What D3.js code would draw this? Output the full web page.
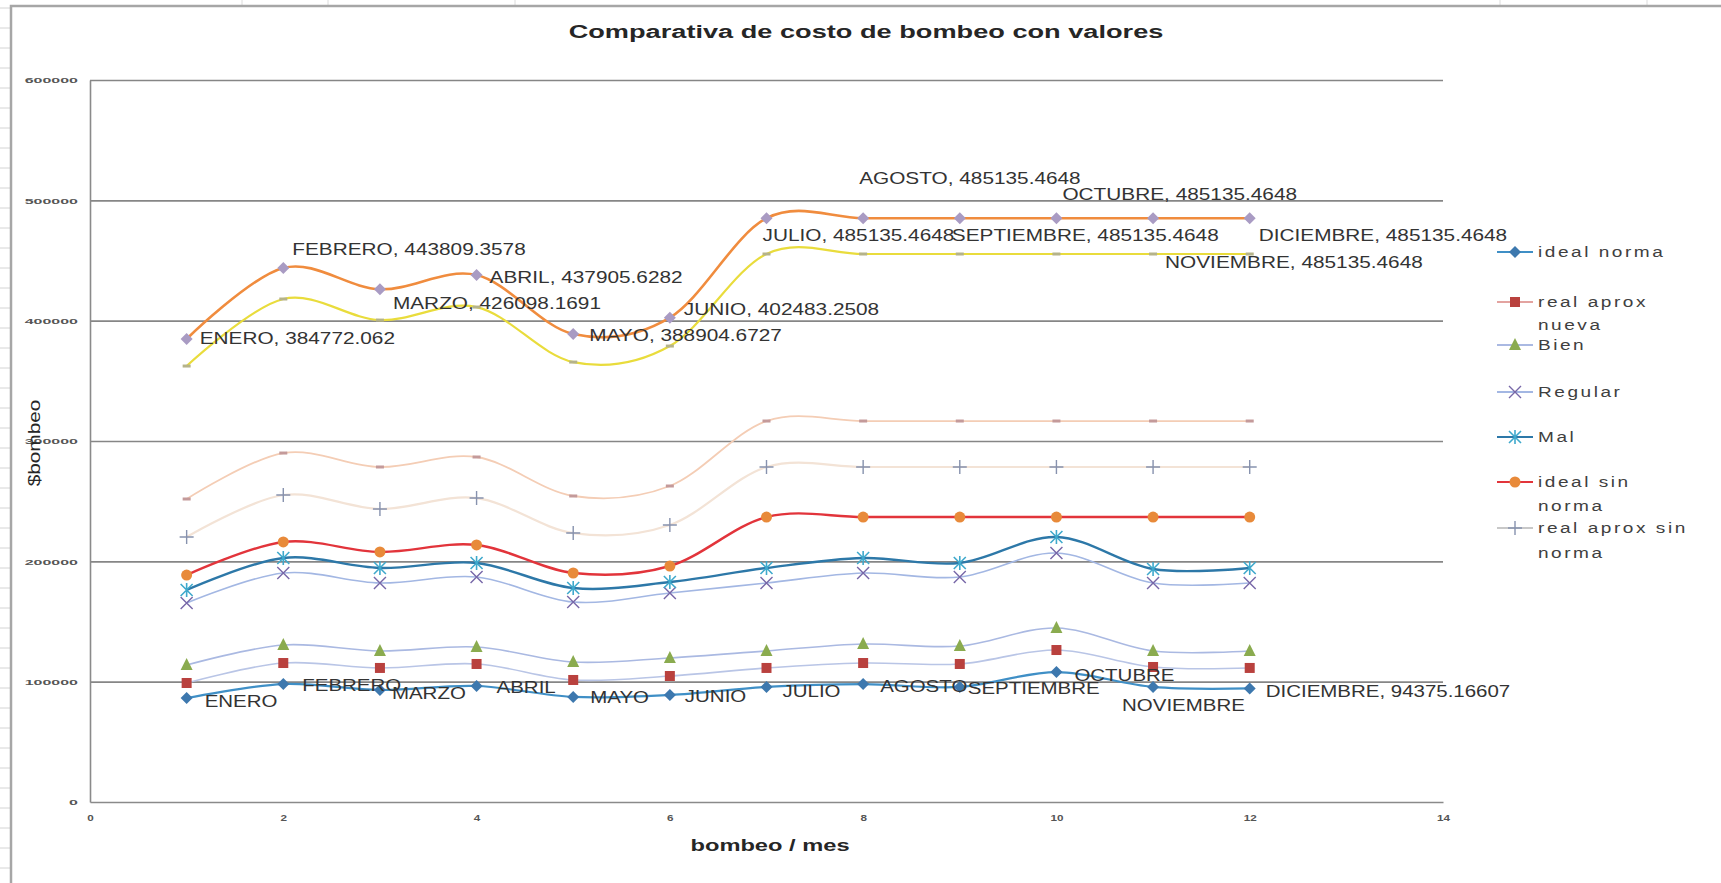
<!DOCTYPE html>
<html>
<head>
<meta charset="utf-8">
<script src="https://cdn.jsdelivr.net/npm/d3@7"></script>
<style>
  html, body { margin: 0; padding: 0; background: #fff; }
  svg { display: block; font-family: "Liberation Sans", Arial, sans-serif; }
</style>
</head>
<body>
<svg id="chart" width="1721" height="883"></svg>
<script>
// ---- data -------------------------------------------------------------
const months = ["ENERO", "FEBRERO", "MARZO", "ABRIL", "MAYO", "JUNIO",
  "JULIO", "AGOSTO", "SEPTIEMBRE", "OCTUBRE", "NOVIEMBRE", "DICIEMBRE"];
const monthNumbers = [1, 2, 3, 4, 5, 6, 7, 8, 9, 10, 11, 12];

const idealNorma        = [86400, 98000, 93100, 96400, 87300, 88900, 95600, 98000, 95600, 108000, 95600, 94375.16607];
const realAproxNueva    = [98900, 115500, 111400, 114700, 101400, 104700, 111400, 115500, 114700, 126300, 112200, 111400];
const bien              = [113800, 130500, 125500, 128800, 116300, 119700, 125500, 131300, 129600, 144600, 125500, 125500];
const regular           = [165400, 190300, 182000, 187000, 166200, 173700, 182000, 190300, 187000, 206900, 182000, 182000];
const mal               = [176200, 202800, 194500, 198600, 177800, 182800, 194500, 202800, 198600, 220200, 193600, 194500];
const idealSinNorma     = [188600, 216100, 207800, 213600, 190300, 196100, 236800, 236800, 236800, 236800, 236800, 236800];
const realAproxSinNorma = [220200, 255100, 243500, 252600, 223500, 230200, 278400, 278400, 278400, 278400, 278400, 278400];
const serie8            = [251800, 290000, 278400, 286700, 254300, 262600, 316600, 316600, 316600, 316600, 316600, 316600];
const serie9            = [362300, 418000, 400500, 411300, 365600, 378900, 455400, 455400, 455400, 455400, 455400, 455400];
const serie10           = [384772.062, 443809.3578, 426098.1691, 437905.6282, 388904.6727, 402483.2508,
  485135.4648, 485135.4648, 485135.4648, 485135.4648, 485135.4648, 485135.4648];

const xTickValues = [0, 2, 4, 6, 8, 10, 12, 14];
const yTickValues = [0, 100000, 200000, 300000, 400000, 500000, 600000];

const titleText = "Comparativa de costo de bombeo con valores";
const xTitle = "bombeo / mes";
const yTitle = "$bombeo";

// ---- series styling ---------------------------------------------------
const series = [
  { name: "ideal norma", values: idealNorma, line: "#3f8fc6", width: 2.2, marker: "diamond", fill: "#3d78ae", legend: ["ideal norma"] },
  { name: "real aprox nueva", values: realAproxNueva, line: "#b9c5e6", width: 1.6, marker: "square", fill: "#b9413e", legend: ["real aprox", "nueva"], legendLine: "#e3a3a0" },
  { name: "Bien", values: bien, line: "#aab9e2", width: 1.6, marker: "triangle", fill: "#8aab4f", legend: ["Bien"] },
  { name: "Regular", values: regular, line: "#a3b7e3", width: 1.6, marker: "x", fill: "#7767a8", legend: ["Regular"] },
  { name: "Mal", values: mal, line: "#2d78a8", width: 2.4, marker: "asterisk", fill: "#3fa9cc", legend: ["Mal"] },
  { name: "ideal sin norma", values: idealSinNorma, line: "#e2343b", width: 2.4, marker: "circle", fill: "#e88a3a", legend: ["ideal sin", "norma"] },
  { name: "real aprox sin norma", values: realAproxSinNorma, line: "#f3e3d6", width: 2.2, marker: "plus", fill: "#8792ae", legend: ["real aprox sin", "norma"], legendLine: "#c8c8c8" },
  { name: "serie 8", values: serie8, line: "#f4cdb5", width: 1.8, marker: "dash", fill: "#c49a9a" },
  { name: "serie 9", values: serie9, line: "#e9dc3c", width: 2.2, marker: "dash", fill: "#b5b38a" },
  { name: "serie 10", values: serie10, line: "#f08c3e", width: 2.6, marker: "diamond", fill: "#a99bc3" }
];

// label placement relative to each point (px)
const topLabelOffsets = [[13, -1], [9, -19], [13, 14], [13, 2], [16, 1], [14, -8],
  [-4, 17], [-4, -40], [-8, 17], [6, -24], [12, 44], [9, 17]];
const bottomLabelOffsets = [[18, 3], [19, 1], [12, 3], [20, 1], [17, 0], [15, 1],
  [16, 4], [17, 2], [8, 1], [18, 3], [-31, 18], [16, 3]];

// ---- layout -----------------------------------------------------------
const plot = { left: 90, right: 1443, top: 80, bottom: 802 };
const svg = d3.select("#chart");

const x = d3.scaleLinear().domain([0, 14]).range([plot.left, plot.right]);
const y = d3.scaleLinear().domain([0, 600000]).range([plot.bottom, plot.top]);

// text helper: horizontally widened glyphs
function label(g, str, px, py, opt = {}) {
  const t = g.append("text")
    .attr("transform", `translate(${px},${py}) scale(${opt.sx || 1},1)`)
    .attr("dy", "0.35em")
    .attr("text-anchor", opt.anchor || "start")
    .attr("font-size", opt.size || 16)
    .attr("font-weight", opt.weight || "normal")
    .attr("fill", opt.fill || "#333")
    .text(str);
  if (opt.spacing) t.attr("letter-spacing", opt.spacing);
  return t;
}

// ---- spreadsheet backdrop ---------------------------------------------
const back = svg.append("g");
back.selectAll("line.row").data(d3.range(8, 883, 20)).join("line")
  .attr("x1", 0).attr("x2", 11).attr("y1", d => d).attr("y2", d => d)
  .attr("stroke", "#d4d4d4").attr("stroke-width", 1);
back.selectAll("line.col").data([242, 328, 515, 1500, 1647]).join("line")
  .attr("x1", d => d).attr("x2", d => d).attr("y1", 0).attr("y2", 5)
  .attr("stroke", "#dcdcdc").attr("stroke-width", 1);
// chart frame
back.append("path")
  .attr("d", `M11,883 L11,6 L1721,6`)
  .attr("fill", "none").attr("stroke", "#a6a6a6").attr("stroke-width", 2.5);

// ---- gridlines and axes -----------------------------------------------
svg.append("g")
  .attr("transform", `translate(${plot.left},0)`)
  .call(d3.axisLeft(y).tickValues(yTickValues.slice(1)).tickSize(-(plot.right - plot.left)).tickFormat(""))
  .call(g => g.select(".domain").remove())
  .call(g => g.selectAll("line").attr("stroke", "#868686").attr("stroke-width", 1.6));

const yAxis = svg.append("g")
  .attr("transform", `translate(${plot.left},0)`)
  .call(d3.axisLeft(y).tickValues(yTickValues).tickSize(0).tickFormat(d3.format("d")));
yAxis.select(".domain").attr("stroke", "#8a8a8a").attr("stroke-width", 1.6);
yAxis.selectAll("text")
  .attr("x", null).attr("dy", "0.35em")
  .attr("transform", "translate(-12,0) scale(2,1)")
  .attr("font-size", 8).attr("font-weight", "bold").attr("fill", "#555")
  .attr("font-family", "Liberation Sans, Arial, sans-serif");

const xAxis = svg.append("g")
  .attr("transform", `translate(0,${plot.bottom})`)
  .call(d3.axisBottom(x).tickValues(xTickValues).tickSize(0).tickFormat(d3.format("d")));
xAxis.select(".domain").attr("stroke", "#8a8a8a").attr("stroke-width", 1.6);
xAxis.selectAll("text")
  .attr("y", null).attr("dy", "0.35em")
  .attr("transform", "translate(0,16) scale(1.3,1)")
  .attr("font-size", 9).attr("font-weight", "bold").attr("fill", "#555")
  .attr("font-family", "Liberation Sans, Arial, sans-serif");

// ---- titles -----------------------------------------------------------
const titles = svg.append("g");
label(titles, titleText, 866, 31, { size: 19, weight: "bold", anchor: "middle", sx: 1.43, fill: "#262626" });
label(titles, xTitle, 770, 845, { size: 16, weight: "bold", anchor: "middle", sx: 1.48, fill: "#262626" });
titles.append("text")
  .attr("transform", "translate(34,443) rotate(-90) scale(1.3,1)")
  .attr("dy", "0.35em").attr("text-anchor", "middle")
  .attr("font-size", 16).attr("fill", "#262626")
  .text(yTitle);

// ---- markers ----------------------------------------------------------
function drawMarker(g, kind, cx, cy, fill) {
  const m = g.append("g").attr("transform", `translate(${cx},${cy})`);
  switch (kind) {
    case "diamond":
      m.append("path").attr("d", "M0,-6 L6,0 L0,6 L-6,0 Z").attr("fill", fill); break;
    case "square":
      m.append("rect").attr("x", -5).attr("y", -5).attr("width", 10).attr("height", 10).attr("fill", fill); break;
    case "triangle":
      m.append("path").attr("d", "M0,-7 L6,5 L-6,5 Z").attr("fill", fill); break;
    case "circle":
      m.append("circle").attr("r", 5.5).attr("fill", fill); break;
    case "x":
      m.append("path").attr("d", "M-6,-6 L6,6 M-6,6 L6,-6").attr("stroke", fill).attr("stroke-width", 1.4); break;
    case "asterisk":
      m.append("path").attr("d", "M-6,-6 L6,6 M-6,6 L6,-6 M0,-7 L0,7").attr("stroke", fill).attr("stroke-width", 1.6); break;
    case "plus":
      m.append("path").attr("d", "M-7,0 L7,0 M0,-7 L0,7").attr("stroke", fill).attr("stroke-width", 1.4); break;
    case "dash":
      m.append("rect").attr("x", -4).attr("y", -1.5).attr("width", 8).attr("height", 3).attr("fill", fill); break;
  }
}

// ---- series -----------------------------------------------------------
const lineGen = d3.line().x(d => x(d[0])).y(d => y(d[1])).curve(d3.curveCardinal.tension(0));
const plotG = svg.append("g");

series.forEach(s => {
  const pts = monthNumbers.map((m, i) => [m, s.values[i]]);
  const g = plotG.append("g");
  g.append("path").attr("d", lineGen(pts))
    .attr("fill", "none").attr("stroke", s.line).attr("stroke-width", s.width);
  pts.forEach(p => drawMarker(g, s.marker, x(p[0]), y(p[1]), s.fill));
});

// ---- data labels ------------------------------------------------------
const labelsG = svg.append("g");
serie10.forEach((v, i) => {
  const [dx, dy] = topLabelOffsets[i];
  label(labelsG, `${months[i]}, ${v}`, x(monthNumbers[i]) + dx, y(v) + dy, { size: 16, sx: 1.3, fill: "#333" });
});
idealNorma.forEach((v, i) => {
  const [dx, dy] = bottomLabelOffsets[i];
  const txt = i === idealNorma.length - 1 ? `${months[i]}, ${v}` : months[i];
  label(labelsG, txt, x(monthNumbers[i]) + dx, y(v) + dy, { size: 16, sx: 1.28, fill: "#333" });
});

// ---- legend -----------------------------------------------------------
const legendRows = [[252], [302, 325], [345], [392], [437], [482, 506], [528, 553]];
const legend = svg.append("g");
series.filter(s => s.legend).forEach((s, i) => {
  const rows = legendRows[i];
  const ly = rows[0];
  legend.append("line").attr("x1", 1497).attr("x2", 1533).attr("y1", ly).attr("y2", ly)
    .attr("stroke", s.legendLine || s.line).attr("stroke-width", 2);
  drawMarker(legend, s.marker, 1515, ly, s.fill);
  s.legend.forEach((t, k) => {
    label(legend, t, 1538, rows[k], { size: 15, sx: 1.27, spacing: 2, fill: "#404040" });
  });
});
</script>
</body>
</html>
